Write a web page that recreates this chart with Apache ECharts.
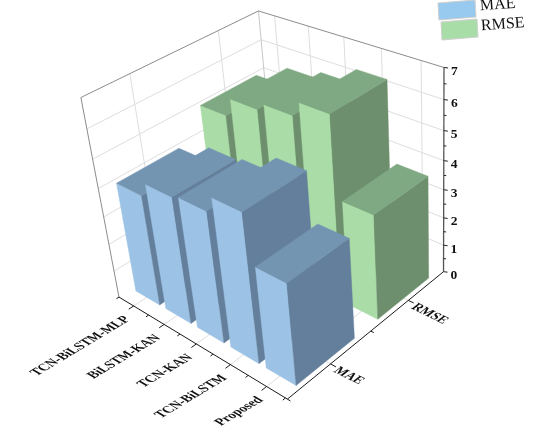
<!DOCTYPE html>
<html><head><meta charset="utf-8">
<style>html,body{margin:0;padding:0;background:#fff}#c{width:550px;height:435px}</style>
<script src="https://cdn.jsdelivr.net/npm/echarts@6/dist/echarts.min.js"></script>
</head><body><div id="c"></div>
<script>
const categories = ['TCN-BiLSTM-MLP','BiLSTM-KAN','TCN-KAN','TCN-BiLSTM','Proposed'];
const seriesNames = ['MAE','RMSE'];
const maeValues = [3.98,4.48,4.58,5.13,3.5];
const rmseValues = [5.0,5.65,5.9,6.4,3.68];
const valueTicks = [0,1,2,3,4,5,6,7];
const valueMinorTicks = [0.5,1.5,2.5,3.5,4.5,5.5,6.5];

// axis ranges of the 3D box
const xMin = 0.5, xMax = 5.55, rowMin = 0.5, rowMax = 2.5, valMin = 0, valMax = 7;
const barWidthX = 0.8, barWidthRow = 0.70, barShiftX = 0.03;

// camera calibration: box position (u,v,w) -> picture position
const anchors = [
 [0,0,0,120,300],[1,0,0,287.7,397.7],[1,1,0,443.3,274.3],[0,1,0,275,191],
 [0,0,1,80,96],[1,1,1,443,65],[0,1,1,258,12],[1,1,3/7,443,192],
 [1,.25,0,331.7,363],[1,.75,0,409,301.6],[.099,0,0,133.3,307.8],[.891,0,0,265,384.5],
 [0,.25,1,130,73],[0,.75,1,219,32],[.099,1,1,275,17],[.891,1,1,422.5,60]
];
function solveCamera(){
  const A=[],b=[];
  anchors.forEach(([X,Y,Z,x,y])=>{
    A.push([X,Y,Z,1,0,0,0,0,-x*X,-x*Y,-x*Z]);b.push(x);
    A.push([0,0,0,0,X,Y,Z,1,-y*X,-y*Y,-y*Z]);b.push(y);
  });
  const n=11,M=[];
  for(let i=0;i<n;i++){M[i]=[];for(let j=0;j<n;j++){let s=0;A.forEach(r=>s+=r[i]*r[j]);M[i][j]=s;}
    let s=0;A.forEach((r,k)=>s+=r[i]*b[k]);M[i][n]=s;}
  for(let c=0;c<n;c++){let p=c;for(let r=c+1;r<n;r++)if(Math.abs(M[r][c])>Math.abs(M[p][c]))p=r;
    [M[c],M[p]]=[M[p],M[c]];
    for(let r=0;r<n;r++){if(r===c)continue;const f=M[r][c]/M[c][c];for(let k=c;k<=n;k++)M[r][k]-=f*M[c][k];}}
  return M.map((r,i)=>r[n]/r[i]);
}
const cam = solveCamera();
function project(u,v,w){
  const d=cam[8]*u+cam[9]*v+cam[10]*w+1;
  return [(cam[0]*u+cam[1]*v+cam[2]*w+cam[3])/d,(cam[4]*u+cam[5]*v+cam[6]*w+cam[7])/d];
}
const rowToV = r => (r-rowMin)/(rowMax-rowMin);

// uses the library's hidden axes for x and value scales
function boxCoord(params,api,x,row,val){
  const s=params.coordSys, p=api.coord([x,val]);
  return project((p[0]-s.x)/s.width,rowToV(row),(s.y+s.height-p[1])/s.height);
}
const line=(a,b,stroke,w)=>({type:'line',silent:true,shape:{x1:a[0],y1:a[1],x2:b[0],y2:b[1]},style:{stroke,lineWidth:w,fill:null}});
const poly=(pts,fill)=>({type:'polygon',silent:true,shape:{points:pts},style:{fill,stroke:fill,lineWidth:0.4}});
const txt=(p,text,font,align,rot,fill,skew)=>({type:'text',silent:true,x:p[0],y:p[1],rotation:rot,skewX:skew||0,
  style:{text,font,fill:fill||'#111',align,verticalAlign:'middle'}});

function renderFrame(params,api){
  const C=(x,r,v)=>boxCoord(params,api,x,r,v), ch=[];
  const grid='#dedede', edge='#8c8c8c';
  // value grid on both back walls
  valueTicks.slice(1).forEach(t=>{
    if(t<7){ch.push(line(C(xMin,rowMin,t),C(xMin,rowMax,t),grid,1));
    ch.push(line(C(xMin,rowMax,t),C(xMax,rowMax,t),grid,1));}
  });
  categories.forEach((c,i)=>{
    ch.push(line(C(i+1,rowMax,0),C(i+1,rowMax,7),grid,1));
    ch.push(line(C(i+1,rowMin,0),C(i+1,rowMax,0),grid,1));
  });
  seriesNames.forEach((c,i)=>{
    ch.push(line(C(xMin,i+1,0),C(xMin,i+1,7),grid,1));
    ch.push(line(C(xMin,i+1,0),C(xMax,i+1,0),grid,1));
  });
  ch.push(line(C(xMin,rowMax,0),C(xMin,rowMax,7),'#c8c8c8',1));
  ch.push(line(C(xMin,rowMin,0),C(xMin,rowMin,7),edge,1));
  ch.push(line(C(xMin,rowMin,7),C(xMin,rowMax,7),edge,1));
  ch.push(line(C(xMin,rowMax,7),C(xMax,rowMax,7),edge,1));
  // axes
  const ax='#1a1a1a';
  ch.push(line(C(xMin,rowMin,0),C(xMax,rowMin,0),ax,1));
  ch.push(line(C(xMax,rowMin,0),C(xMax,rowMax,0),ax,1));
  ch.push(line(C(xMax,rowMax,0),C(xMax,rowMax,7),'#555',1.3));
  const outV=rowMin-0.055, outVm=rowMin-0.03, outX=xMax+0.14, outXm=xMax+0.08;
  categories.forEach((c,i)=>{
    const t=C(i+1,rowMin,0);
    ch.push(line(t,C(i+1,outV,0),ax,1));
    if(i<categories.length)ch.push(line(C(i+1.5,rowMin,0),C(i+1.5,outVm,0),ax,1));
    ch.push(txt([t[0]-6,t[1]+12],c,'bold 12.5px "Liberation Serif"','right',0.54,'#111',0.5));
  });
  ch.push(line(C(xMin,rowMin,0),C(xMin,outVm,0),ax,1));
  seriesNames.forEach((c,i)=>{
    const t=C(xMax,i+1,0);
    ch.push(line(t,C(outX,i+1,0),ax,1));
    ch.push(txt([t[0]+5,t[1]+5.5],c,'bold 12.5px "Liberation Serif"','left',-0.46,'#111',-0.45));
  });
  ch.push(line(C(xMax,1.5,0),C(outXm,1.5,0),ax,1));
  ch.push(line(C(xMax,rowMin,0),C(outXm,rowMin,0),ax,1));
  valueTicks.forEach(t=>{
    const p=C(xMax,rowMax,t);
    ch.push(line(p,[p[0]+4,p[1]+0.5],'#222',1));
    ch.push(txt([p[0]+7,p[1]+4],String(t),'bold 13.5px "Liberation Serif"','left',0));
  });
  valueMinorTicks.forEach(t=>{
    const p=C(xMax,rowMax,t);
    ch.push(line(p,[p[0]+2.5,p[1]+0.3],'#222',1));
  });
  return {type:'group',children:ch};
}
function makeBars(row,colors){
  return function(params,api){
    const x=api.value(0)+barShiftX, val=api.value(1);
    const x0=x-barWidthX/2,x1=x+barWidthX/2,r0=row-barWidthRow/2,r1=row+barWidthRow/2;
    const C=(a,b,c)=>boxCoord(params,api,a,b,c);
    return {type:'group',children:[
      poly([C(x0,r0,0),C(x1,r0,0),C(x1,r0,val),C(x0,r0,val)],colors.front),
      poly([C(x1,r0,0),C(x1,r1,0),C(x1,r1,val),C(x1,r0,val)],colors.side),
      poly([C(x0,r0,val),C(x1,r0,val),C(x1,r1,val),C(x0,r1,val)],colors.top)
    ]};
  };
}
const blue={front:'#9cc3e5',side:'#647f9b',top:'#7495b2',swatch:'#98c9ee'};
const green={front:'#a9dca6',side:'#6d8f6d',top:'#7fa982',swatch:'#a9dda8'};
function renderLegend(){
  const sw=(pts,fill)=>({type:'polygon',silent:true,shape:{points:pts},style:{fill,stroke:'#cfcfcf',lineWidth:1}});
  return {type:'group',children:[
    sw([[438,3],[475,0],[476,17],[439,20]],blue.swatch),
    sw([[441,22],[477,19],[478,37],[442,40]],green.swatch),
    txt([480,6],seriesNames[0],'16px "Liberation Serif"','left',0.07,'#111'),
    txt([481,26],seriesNames[1],'16px "Liberation Serif"','left',0.07,'#111')
  ]};
}
const chart=echarts.init(document.getElementById('c'),null,{renderer:'canvas'});
chart.setOption({
  animation:false,backgroundColor:'#fff',
  grid:{left:0,right:0,top:0,bottom:0},
  xAxis:{type:'value',min:xMin,max:xMax,show:false},
  yAxis:{type:'value',min:valMin,max:valMax,show:false},
  series:[
    {type:'custom',name:'frame',z:1,renderItem:renderFrame,data:[[1,0]],clip:false,silent:true},
    {type:'custom',name:seriesNames[1],z:2,renderItem:makeBars(2,green),clip:false,silent:true,
      data:rmseValues.map((v,i)=>[i+1,v])},
    {type:'custom',name:seriesNames[0],z:3,renderItem:makeBars(1,blue),clip:false,silent:true,
      data:maeValues.map((v,i)=>[i+1,v])},
    {type:'custom',name:'legend',z:4,renderItem:renderLegend,data:[[1,0]],clip:false,silent:true}
  ]
});
</script></body></html>
